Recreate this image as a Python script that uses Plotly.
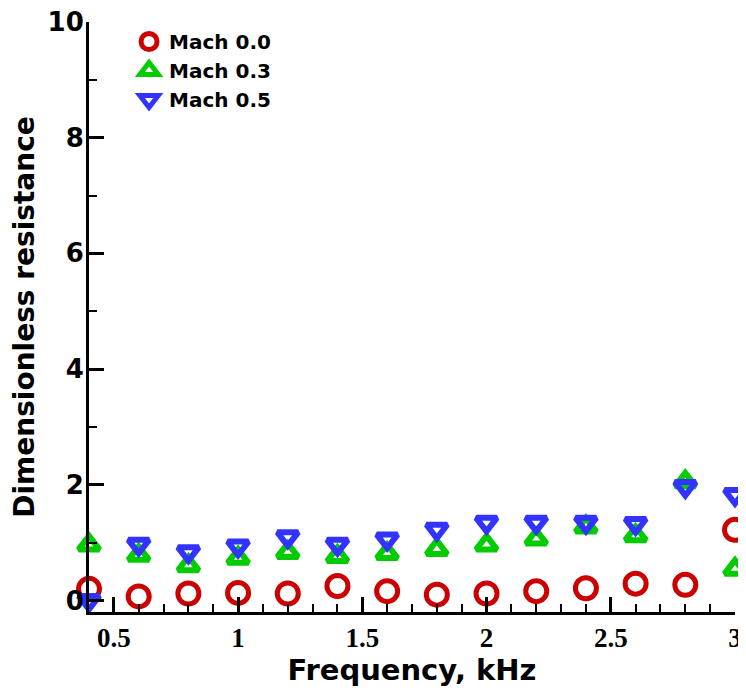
import plotly.graph_objects as go

freq = [0.4, 0.6, 0.8, 1.0, 1.2, 1.4, 1.6, 1.8, 2.0, 2.2, 2.4, 2.6, 2.8, 3.0]
mach00 = [0.20, 0.07, 0.12, 0.13, 0.12, 0.25, 0.16, 0.10, 0.12, 0.16, 0.21, 0.29, 0.27, 1.22]
mach03 = [0.96, 0.78, 0.60, 0.73, 0.83, 0.76, 0.81, 0.88, 0.96, 1.06, 1.27, 1.12, 2.05, 0.54]
mach05 = [0.00, 0.97, 0.84, 0.94, 1.10, 0.97, 1.06, 1.23, 1.35, 1.35, 1.35, 1.33, 1.97, 1.83]

x_tickvals = [0.5, 1, 1.5, 2, 2.5, 3]
x_ticktext = ["0.5", "1", "1.5", "2", "2.5", "3"]
y_tickvals = [0, 2, 4, 6, 8, 10]

names = ["Mach 0.0", "Mach 0.3", "Mach 0.5"]
colors = ["rgb(204,0,0)", "rgb(0,204,0)", "rgb(51,51,255)"]
symbols = ["circle-open", "triangle-up-open", "triangle-down-open"]
sizes = [21, 18, 18]
widths = [5, 6, 6]

fig = go.Figure()
for ys, n, c, s, sz, w in zip([mach00, mach03, mach05], names, colors, symbols, sizes, widths):
    fig.add_trace(go.Scatter(
        x=freq, y=ys, mode="markers", name=n, cliponaxis=False,
        marker=dict(symbol=s, size=sz, color=c, line=dict(color=c, width=w)),
    ))

# the page body adds an 8px offset, so margins are compensated accordingly
fig.update_layout(
    width=746, height=690,
    margin=dict(l=81, r=19, t=14, b=86),
    plot_bgcolor="white", paper_bgcolor="white",
    showlegend=True,
    legend=dict(x=0.062, y=1.0, xanchor="left", yanchor="top",
                bgcolor="rgba(0,0,0,0)", tracegroupgap=0,
                font=dict(family="DejaVu Sans", size=20, color="black", weight="bold"),
                itemwidth=30),
    xaxis=dict(range=[0.4, 3.0], showgrid=False, zeroline=False, automargin=False,
               showline=True, linecolor="black", linewidth=3,
               ticks="inside", ticklen=15, tickwidth=3, tickcolor="black",
               tickvals=x_tickvals, ticktext=x_ticktext, ticklabeloverflow="allow",
               tickfont=dict(family="Liberation Serif", size=27, color="black", weight="bold"),
               minor=dict(ticks="inside", ticklen=8, tickwidth=1.5, tickcolor="black", dtick=0.1, showgrid=False),
               title=dict(text="Frequency, kHz", standoff=0,
                          font=dict(family="DejaVu Sans", size=29, color="black", weight="bold"))),
    yaxis=dict(range=[-0.2, 10], showgrid=False, zeroline=False, automargin=False,
               showline=True, linecolor="black", linewidth=3,
               ticks="inside", ticklen=15, tickwidth=3, tickcolor="black",
               tickvals=y_tickvals, ticklabelstandoff=-3, ticklabeloverflow="allow",
               tickfont=dict(family="DejaVu Sans", size=26, color="black", weight="bold"),
               minor=dict(ticks="inside", ticklen=8, tickwidth=1.5, tickcolor="black",
                          dtick=1, showgrid=False),
               title=dict(text="Dimensionless resistance", standoff=22,
                          font=dict(family="DejaVu Sans", size=28, color="black", weight="bold"))),
)

fig.write_html("out.html")
